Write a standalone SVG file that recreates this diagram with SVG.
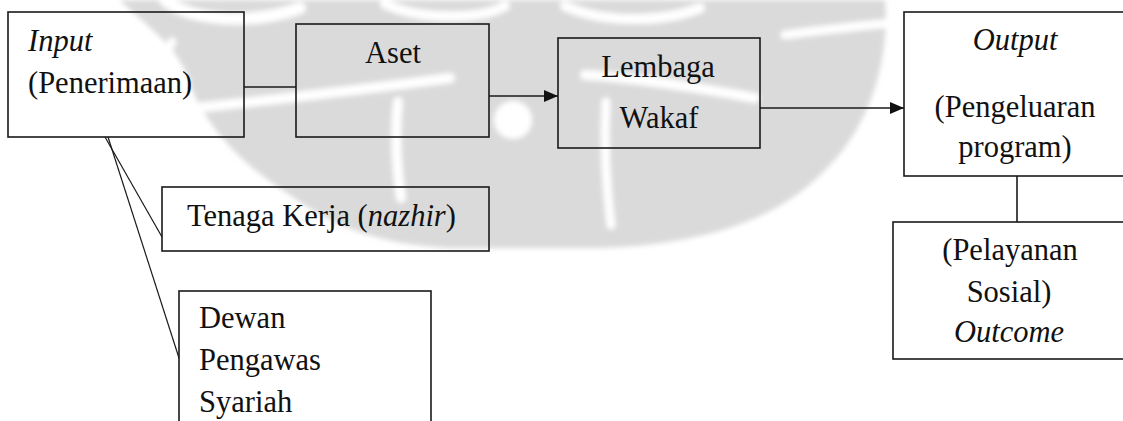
<svg xmlns="http://www.w3.org/2000/svg" width="1123" height="421" viewBox="0 0 1123 421" font-family="Liberation Serif, Times New Roman, serif">
  <style>
    .box { fill: none; stroke: #1a1a1a; stroke-width: 1.6; }
    .wire { fill: none; stroke: #1a1a1a; stroke-width: 1.6; }
    .thin { fill: none; stroke: #1a1a1a; stroke-width: 1.2; }
    .t { font-size: 30.5px; fill: #111; }
    .c { text-anchor: middle; }
    .i { font-style: italic; }
    .wm { fill: none; stroke: #ffffff; stroke-linecap: round; }
  </style>
  <defs>
    <marker id="arrow" viewBox="0 0 14 12" refX="14" refY="6" markerWidth="14" markerHeight="12" markerUnits="userSpaceOnUse" orient="auto">
      <path d="M0,0 L14,6 L0,12 Z" fill="#111"/>
    </marker>
    <filter id="soft" x="-5%" y="-5%" width="110%" height="110%">
      <feGaussianBlur stdDeviation="2.5"/>
    </filter>
  </defs>

  <rect width="1123" height="421" fill="#ffffff"/>

  <!-- light grey ornamental emblem behind the chart -->
  <g id="watermark" filter="url(#soft)">
    <path d="M120,0 L885,0 C890,60 870,130 820,175 C770,225 690,245 600,248 L450,248 C380,245 330,225 290,195 C235,160 200,120 185,70 C170,40 145,25 120,0 Z" fill="#dadada"/>
    <path class="wm" stroke-width="12" d="M165,0 C190,20 250,26 300,8"/>
    <path class="wm" stroke-width="10" d="M385,4 C420,20 480,20 505,6"/>
    <path class="wm" stroke-width="10" d="M565,6 C600,22 660,24 700,8"/>
    <path class="wm" stroke-width="9" d="M172,42 C162,56 168,74 186,80"/>
    <path class="wm" stroke-width="10" d="M195,108 C270,100 360,90 450,78"/>
    <path class="wm" stroke-width="10" d="M398,102 C394,140 397,170 401,198"/>
    <path class="wm" stroke-width="10" d="M585,75 C640,78 700,88 755,98"/>
    <path class="wm" stroke-width="9" d="M606,102 C604,140 606,185 611,225"/>
    <path class="wm" stroke-width="9" d="M785,35 C820,30 860,26 900,22"/>
    <circle cx="513" cy="120" r="19" fill="#ffffff"/>
  </g>

  <g id="connectors">
    <line class="wire" x1="244" y1="87" x2="296" y2="87"/>
    <line class="wire" x1="489" y1="96" x2="558" y2="96" marker-end="url(#arrow)"/>
    <line class="wire" x1="760" y1="108" x2="904" y2="108" marker-end="url(#arrow)"/>
    <line class="thin" x1="105" y1="137" x2="162" y2="237"/>
    <line class="thin" x1="108" y1="137" x2="179" y2="358"/>
    <line class="wire" x1="1017" y1="176" x2="1017" y2="222"/>
  </g>

  <g id="input" font-family="Liberation Serif">
    <rect class="box" x="8" y="12" width="236" height="125"/>
    <text class="t i" x="28" y="51" font-family="Liberation Serif">Input</text>
    <text class="t" x="28" y="93" font-family="Liberation Serif">(Penerimaan)</text>
  </g>

  <g id="aset" font-family="Liberation Serif">
    <rect class="box" x="296" y="24" width="193" height="113"/>
    <text class="t c" x="393" y="63" font-family="Liberation Serif">Aset</text>
  </g>

  <g id="lembaga" font-family="Liberation Serif">
    <rect class="box" x="558" y="38" width="202" height="110"/>
    <text class="t c" x="658" y="77" font-family="Liberation Serif">Lembaga</text>
    <text class="t c" x="659" y="128" font-family="Liberation Serif">Wakaf</text>
  </g>

  <g id="output" font-family="Liberation Serif">
    <rect class="box" x="904" y="12" width="230" height="164"/>
    <text class="t c i" x="1015" y="50" font-family="Liberation Serif">Output</text>
    <text class="t c" x="1015" y="117" font-family="Liberation Serif">(Pengeluaran</text>
    <text class="t c" x="1015" y="157" font-family="Liberation Serif">program)</text>
  </g>

  <g id="outcome" font-family="Liberation Serif">
    <rect class="box" x="893" y="222" width="240" height="137"/>
    <text class="t c" x="1010" y="260" font-family="Liberation Serif">(Pelayanan</text>
    <text class="t c" x="1009" y="302" font-family="Liberation Serif">Sosial)</text>
    <text class="t c i" x="1009" y="342" font-family="Liberation Serif">Outcome</text>
  </g>

  <g id="tenaga-kerja" font-family="Liberation Serif">
    <rect class="box" x="162" y="187" width="327" height="64"/>
    <text class="t" x="187" y="226" font-family="Liberation Serif">Tenaga Kerja (<tspan class="i">nazhir</tspan>)</text>
  </g>

  <g id="dewan-pengawas" font-family="Liberation Serif">
    <rect class="box" x="179" y="291" width="252" height="140"/>
    <text class="t" x="199" y="328" font-family="Liberation Serif">Dewan</text>
    <text class="t" x="199" y="370" font-family="Liberation Serif">Pengawas</text>
    <text class="t" x="199" y="412" font-family="Liberation Serif">Syariah</text>
  </g>
</svg>
